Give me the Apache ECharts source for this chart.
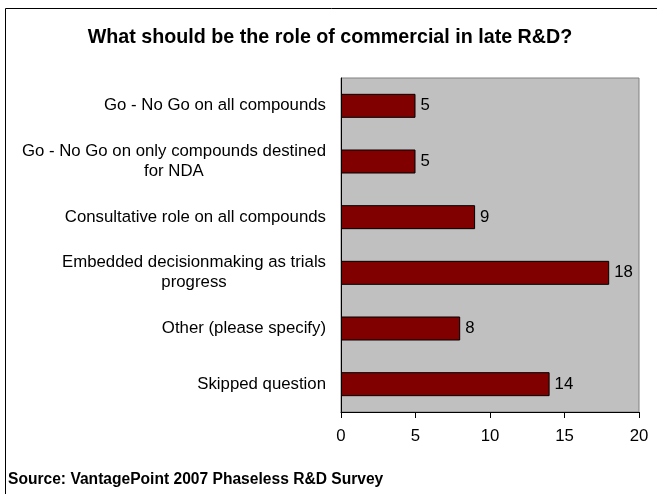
<!DOCTYPE html>
<html>
<head>
<meta charset="utf-8">
<script src="https://cdn.jsdelivr.net/npm/echarts@6/dist/echarts.min.js"></script>
<style>
  html, body { margin: 0; padding: 0; background: #fff; }
  #chart { width: 657px; height: 494px; }
</style>
</head>
<body>
<div id="chart"></div>
<script>
// Survey answers, listed top to bottom
const categories = [
  'Go - No Go on all compounds',
  'Go - No Go on only compounds destined\nfor NDA',
  'Consultative role on all compounds',
  'Embedded decisionmaking as trials\nprogress',
  'Other (please specify)',
  'Skipped question'
];
const responses = [5, 5, 9, 18, 8, 14];
const xTicks = [0, 5, 10, 15, 20];

const chart = echarts.init(document.getElementById('chart'), null, { renderer: 'canvas' });

// The category axis runs bottom-up, so reverse to keep the first answer on top
const cats = categories.slice().reverse();
const vals = responses.slice().reverse();

const FONT = 'Liberation Sans, Arial, sans-serif';

chart.setOption({
  backgroundColor: '#ffffff',
  animation: false,
  title: {
    text: 'What should be the role of commercial in late R&D?',
    left: 325,
    top: 23,
    textAlign: 'center',
    textStyle: { fontFamily: FONT, fontSize: 19.7, fontWeight: 'bold', color: '#000' }
  },
  graphic: [
    {
      type: 'rect',
      shape: { x: 5.5, y: 8.5, width: 700, height: 600 },
      style: { fill: 'none', stroke: '#000', lineWidth: 1 },
      z: 0
    },
    {
      type: 'text',
      left: 8,
      top: 472,
      style: {
        text: 'Source: VantagePoint 2007 Phaseless R&D Survey',
        font: 'bold 15.6px ' + FONT,
        fill: '#000'
      }
    }
  ],
  grid: {
    left: 341, right: 18, top: 78, bottom: 82,
    show: true,
    backgroundColor: '#c0c0c0',
    borderColor: '#808080',
    borderWidth: 1
  },
  xAxis: {
    type: 'value',
    min: xTicks[0],
    max: xTicks[xTicks.length - 1],
    interval: 5,
    axisLine: { show: true, lineStyle: { color: '#000', width: 1 } },
    axisTick: { show: true, length: 6, lineStyle: { color: '#000' } },
    splitLine: { show: false },
    axisLabel: { fontFamily: FONT, fontSize: 16.8, color: '#000', margin: 16 }
  },
  yAxis: {
    type: 'category',
    data: cats,
    axisLine: { show: true, lineStyle: { color: '#000', width: 1 } },
    axisTick: { show: false },
    axisLabel: {
      color: '#000',
      margin: 15,
      align: 'right',
      // each line is its own rich token so wrapped lines stay centred on each other
      formatter: v => v.split('\n').map(s => '{c|' + s + '}').join('\n'),
      rich: {
        c: { fontFamily: FONT, fontSize: 16.8, color: '#000', align: 'center', lineHeight: 20 }
      }
    }
  },
  series: [{
    type: 'bar',
    data: vals,
    barWidth: 24,
    itemStyle: { color: '#800000', borderColor: '#000', borderWidth: 1 },
    label: {
      show: true,
      position: 'right',
      distance: 5,
      fontFamily: FONT, fontSize: 16.8, color: '#000'
    }
  }]
});
</script>
</body>
</html>
